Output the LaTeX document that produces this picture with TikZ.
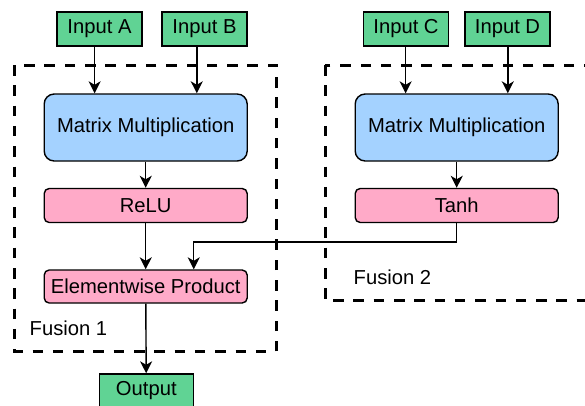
\documentclass[tikz,border=0pt]{standalone}
\usepackage{fontspec}
\setmainfont{Liberation Sans}
\usetikzlibrary{arrows.meta,calc}
\definecolor{ioGreen}{RGB}{96,211,148}
\definecolor{opBlue}{RGB}{164,210,255}
\definecolor{actPink}{RGB}{255,170,200}

\begin{document}
\begin{tikzpicture}[x=1pt,y=-1pt,line width=1.4pt,
    >={Stealth[length=12pt,width=12pt,inset=3.5pt]},
    every node/.style={font=\fontsize{20.2}{24}\selectfont,inner sep=0pt},
    io/.style={draw,fill=ioGreen,minimum width=85pt,minimum height=34pt},
    matmul/.style={draw,fill=opBlue,rounded corners=10pt,
      minimum width=203pt,minimum height=67pt},
    act/.style={draw,fill=actPink,rounded corners=5pt,
      minimum width=203pt,minimum height=34pt},
    fusion/.style={line width=3pt,dash pattern=on 10.5pt off 9.8pt}]
    \clip(0,0)rectangle(585,405);
    % fusion groups
    \draw[fusion](14.5,65)rectangle(276,351.5);
    \draw[fusion](325,65)rectangle(620,300.5);
    \node[anchor=west](f1lab)at(29,328){Fusion 1};
    \node[anchor=west](f2lab)at(353,277){Fusion 2};
    % inputs
    \node[io](inA)at(99.5,29){Input A};
    \node[io](inB)at(204.5,29){Input B};
    \node[io](inC)at(406,29){Input C};
    \node[io](inD)at(507.5,29){Input D};
    % operations
    \node[matmul](mm1)at(145.7,127.5){Matrix Multiplication};
    \node[matmul](mm2)at(456.7,127.5){Matrix Multiplication};
    \node[act](relu)at(145.7,205.5){ReLU};
    \node[act](tanh)at(456.7,205.5){Tanh};
    \node[act,minimum height=33pt](prod)at(145.7,286.5){Elementwise Product};
    \node[io,minimum width=94pt](out)at(146.3,391){Output};
    % connectors
    \coordinate(mm1a)at($(mm1.north west)!0.25!(mm1.north east)$);
    \coordinate(mm1b)at($(mm1.north west)!0.75!(mm1.north east)$);
    \coordinate(mm2a)at($(mm2.north west)!0.25!(mm2.north east)$);
    \coordinate(mm2b)at($(mm2.north west)!0.75!(mm2.north east)$);
    \coordinate(prodb)at($(prod.north west)!0.735!(prod.north east)$);
    \coordinate(mix)at(0,242);
    \draw[->](inA.south-|mm1a)--(mm1a);
    \draw[->](inB.south-|mm1b)--(mm1b);
    \draw[->](inC.south-|mm2a)--(mm2a);
    \draw[->](inD.south-|mm2b)--(mm2b);
    \draw[->](mm1)--(relu);
    \draw[->](mm2)--(tanh);
    \draw[->](relu)--(prod);
    \draw[->](tanh.south)--(tanh.south|-mix)-|(prodb);
    \draw[->](prod)--(out);
\end{tikzpicture}
\end{document}
